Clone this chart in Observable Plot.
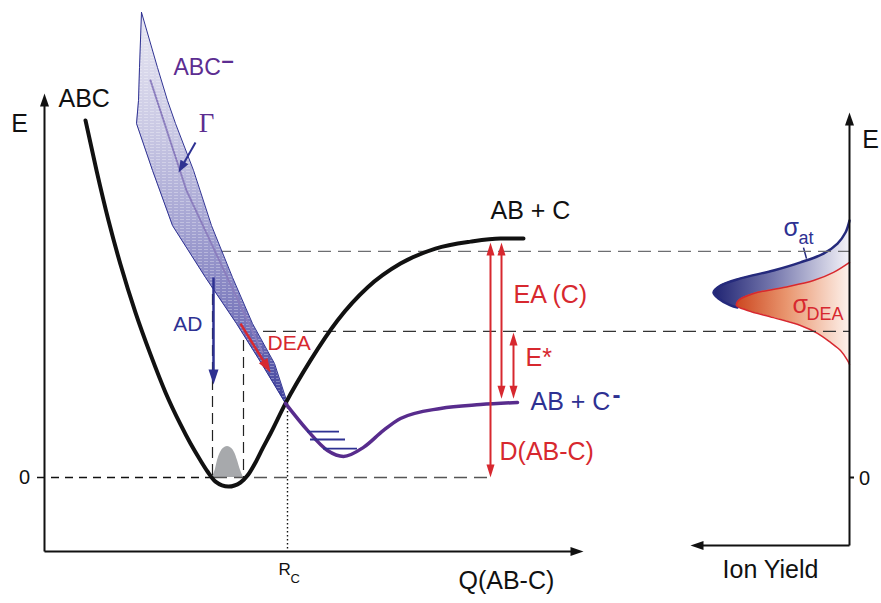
<!DOCTYPE html>
<html><head><meta charset="utf-8">
<script src="https://cdn.jsdelivr.net/npm/d3@7"></script>
<script src="https://cdn.jsdelivr.net/npm/@observablehq/plot@0.6"></script>
<style>body{margin:0;background:#fff}#chart{width:881px;height:603px}</style>
</head><body><div id="chart"></div>
<script>
// ================= DATA (Q = coordinate, E = energy) =================
// Neutral ABC potential curve
const abcQ = [4.1, 5.2, 6.4, 7.6, 9.1, 10.6, 12.1, 13.6, 14.6, 15.6, 16.3, 17.1, 18.4, 19.6, 20.3, 21.1, 21.8, 22.6, 24.1, 26.6, 29.3, 32.3, 35.6, 39.1, 42.6, 45.6, 47.9];
const abcE = [14.94, 12.85, 10.75, 8.91, 6.90, 5.15, 3.56, 2.22, 1.42, 0.71, 0.25, -0.17, -0.38, -0.21, 0.08, 0.63, 1.21, 1.84, 3.10, 4.90, 6.57, 7.95, 8.95, 9.58, 9.87, 10.0, 10.0];
// Anion ABC- bound part (below crossing)
const anionQ = [24.1, 26.3, 28.3, 29.9, 31.9, 33.9, 35.6, 39.6, 43.6, 47.3];
const anionE = [3.10, 1.97, 1.13, 0.88, 1.26, 1.97, 2.47, 2.89, 3.05, 3.14];
// Resonance band of ABC- (width Gamma)
const bandE      = [19.46, 17.15, 15.77, 14.81, 12.85, 10.54, 8.37, 6.44, 4.77, 3.10];
const bandLeftQ  = [9.7, 9.5, 9.4, 9.2, 10.8, 12.8, 16.1, 19.2, 21.7, 24.1];
const bandRightQ = [9.7, 11.3, 12.3, 13.1, 14.9, 16.7, 18.8, 20.8, 23.0, 24.3];
const bandCenterQ = [10.6, 14.2, 21.8];
const bandCenterE = [16.61, 12.01, 5.23];
// Vibrational levels of the anion
const vibQ1 = [26.3, 26.6, 27.9];
const vibQ2 = [29.5, 30.1, 31.3];
const vibE  = [1.92, 1.59, 1.21];
// Ground-state wavefunction (grey)
const psiQ = [16.8, 17.1, 17.3, 17.6, 17.9, 18.3, 18.7, 19.0, 19.3, 19.6, 19.9];
const psiE = [0, 0.35, 0.71, 1.05, 1.22, 1.30, 1.22, 1.05, 0.71, 0.3, 0];
// Energy levels
const E_ABC_asym = 10.0, E_upper = 9.46, E_star = 6.11, E_anion = 3.3, E_zero = 0;
const Q_rc = 24.3;
// Arrows: AD, DEA, Gamma, D(AB-C), EA(C), E*
const arrowQ1 = [16.9, 19.6, 15.1, 44.6, 45.7, 46.9];
const arrowE1 = [8.37, 6.44, 14.02, 9.83, 9.83, 6.07];
const arrowQ2 = [16.9, 22.6, 13.4, 44.6, 45.7, 46.9];
const arrowE2 = [3.89, 4.39, 12.76, 0, 3.3, 3.3];
// Ion-yield panel (yield, E)
const sigmaAtYield = [0, 0.4, 1.2, 2.6, 4.9, 7.6, 10.9, 12.9, 13.6, 13.1, 11.9, 11.2, 8.9, 3.9, 0];
const sigmaAtE     = [10.75, 10.25, 9.79, 9.37, 9.00, 8.66, 8.33, 8.03, 7.74, 7.49, 7.20, 7.11, 6.90, 6.57, 6.44];
const sigmaDeaYield = [0, 1.6, 3.6, 6.6, 9.6, 11.1, 11.3, 10.2, 7.6, 4.9, 3.2, 1.9, 0.9, 0.2, 0];
const sigmaDeaE     = [9.00, 8.58, 8.24, 7.95, 7.70, 7.41, 7.20, 6.99, 6.69, 6.36, 6.03, 5.65, 5.31, 4.90, 4.73];
// Labels
const leftLabelText = ["ABC", "ABC", "AD", "DEA", "AB + C", "EA (C)", "E*", "D(AB-C)", "AB + C", "Q(AB-C)", "R", "C"];
const leftLabelQ    = [1.4, 12.9, 15.8, 22.3, 44.6, 46.9, 48.1, 45.5, 48.6, 41.4, 23.4, 24.6];
const leftLabelE    = [15.82, 17.15, 6.40, 5.61, 11.17, 7.62, 4.98, 1.05, 3.14, -4.31, -3.85, -4.23];
const rightLabelText = ["σ", "at", "σ", "DEA", "Ion Yield", "E", "0"];
const rightLabelYield = [6.6, 5.1, 5.7, 4.3, 7.9, -2.1, -1.5];
const rightLabelE     = [10.46, 10.0, 7.2, 6.82, -3.89, 14.14, -0.04];

// ================= LAYOUT / SCALES =================
const W = 881, H = 603;
const xDomain = [-4.4, 83.7], yDomain = [-5.272, 19.958];
const xs = d3.scaleLinear(xDomain, [0, W]), ys = d3.scaleLinear(yDomain, [H, 0]);
const AXIS_Q = 80.5;              // position of the ion-yield energy axis
const yq = v => AXIS_Q - v;       // ion yield -> shared x coordinate
const BLACK = "#111111", BLUE = "#2e3192", RED = "#d7282f", PURPLE = "#5c2d91", GRAY = "#a7a9ac", NAVY = "#252a7c";
const FONT = "Liberation Sans, Arial, Helvetica, sans-serif";

const zip = (a, b, ka, kb) => a.map((v, i) => ({[ka]: v, [kb]: b[i]}));
const abc = zip(abcQ, abcE, "q", "e");
const anion = zip(anionQ, anionE, "q", "e");
const band = bandE.map((e, i) => ({e, l: bandLeftQ[i], r: bandRightQ[i]}));
const bandOutline = [...band.map(d => ({q: d.l, e: d.e})), ...band.slice().reverse().map(d => ({q: d.r, e: d.e}))];
const bandCenter = zip(bandCenterQ, bandCenterE, "q", "e");
const vib = vibE.map((e, i) => ({e, q1: vibQ1[i], q2: vibQ2[i]}));
const psi = zip(psiQ, psiE, "q", "e");
const sigAt = zip(sigmaAtYield, sigmaAtE, "y", "e");
const sigAtOutline = sigAt.filter(d => d.e >= 7.1);   // lower branch hidden behind sigma_DEA
const sigDea = zip(sigmaDeaYield, sigmaDeaE, "y", "e");

const hDash = [
  {e: E_upper, q1: 17.4, q2: AXIS_Q, c: "#6d6e71"},
  {e: E_star, q1: 19.9, q2: AXIS_Q, c: "#333333"},
  {e: E_zero, q1: 17.0, q2: 44.6, c: "#555555"}
];
const vDash = [{q: 16.8, e1: 8.37, e2: 0}, {q: 19.9, e1: 6.44, e2: 0}];

// arrowhead symbol (tip at origin)
function head(dx, dy, L, hw) {
  const n = Math.hypot(dx, dy), ux = dx / n, uy = dy / n, px = -uy, py = ux;
  return {draw(ctx) {
    ctx.moveTo(0, 0);
    ctx.lineTo(-ux * L + px * hw, -uy * L + py * hw);
    ctx.lineTo(-ux * L - px * hw, -uy * L - py * hw);
    ctx.closePath();
  }};
}
function arrow(q1, e1, q2, e2, color, width, L, hw, both) {
  const p1 = [xs(q1), ys(e1)], p2 = [xs(q2), ys(e2)];
  const dx = p2[0] - p1[0], dy = p2[1] - p1[1], n = Math.hypot(dx, dy), ux = dx / n, uy = dy / n;
  const s = L * 0.7;
  const a1 = both ? [p1[0] + ux * s, p1[1] + uy * s] : p1;
  const a2 = [p2[0] - ux * s, p2[1] - uy * s];
  const seg = [{x1: xs.invert(a1[0]), y1: ys.invert(a1[1]), x2: xs.invert(a2[0]), y2: ys.invert(a2[1])}];
  const marks = [
    Plot.link(seg, {x1: "x1", y1: "y1", x2: "x2", y2: "y2", stroke: color, strokeWidth: width}),
    Plot.dot([{q: q2, e: e2}], {x: "q", y: "e", symbol: head(dx, dy, L, hw), fill: color, stroke: "none", r: 5})
  ];
  if (both) marks.push(Plot.dot([{q: q1, e: e1}], {x: "q", y: "e", symbol: head(-dx, -dy, L, hw), fill: color, stroke: "none", r: 5}));
  return marks;
}
const arrowStyle = [[BLUE, 2.5, 15, 5, false], [RED, 2.5, 14, 5, false], [BLUE, 2, 12, 4.5, false],
                    [RED, 2, 13, 4, true], [RED, 2, 13, 4, true], [RED, 2, 13, 4, true]];
const arrowMarks = arrowQ1.flatMap((q, i) => arrow(q, arrowE1[i], arrowQ2[i], arrowE2[i], ...arrowStyle[i]));

// axes
const axisMarks = [
  ...arrow(0, -3.1, 0, 16.07, BLACK, 2, 13, 4.5, false),
  ...arrow(0, -3.1, 53.9, -3.1, BLACK, 2, 13, 4.5, false),
  ...arrow(AXIS_Q, -2.85, AXIS_Q, 15.27, BLACK, 2, 13, 4.5, false),
  ...arrow(AXIS_Q, -2.85, yq(15.9), -2.85, BLACK, 2, 13, 4.5, false),
  Plot.link([{}], {x1: () => AXIS_Q, x2: () => AXIS_Q + 0.45, y1: () => 0, y2: () => 0, stroke: BLACK, strokeWidth: 2})
];

const defs = () => {
  const d = d3.create("svg:defs");
  const g1 = d.append("linearGradient").attr("id", "bandGrad").attr("gradientUnits", "userSpaceOnUse")
    .attr("x1", 0).attr("x2", 0).attr("y1", ys(bandE[0])).attr("y2", ys(bandE[bandE.length - 1]));
  [[0, "#e9e8f3"], [0.3, "#cac9e4"], [0.55, "#a4a3d2"], [0.8, "#7675ba"], [1, "#3f409b"]]
    .forEach(([o, c]) => g1.append("stop").attr("offset", o).attr("stop-color", c));
  const g2 = d.append("linearGradient").attr("id", "blueGrad").attr("gradientUnits", "userSpaceOnUse")
    .attr("y1", 0).attr("y2", 0).attr("x1", xs(yq(13.6))).attr("x2", xs(AXIS_Q));
  [[0, "#1f2372"], [0.45, "#7779ae"], [1, "#f3f2f8"]].forEach(([o, c]) => g2.append("stop").attr("offset", o).attr("stop-color", c));
  const g3 = d.append("linearGradient").attr("id", "redGrad").attr("gradientUnits", "userSpaceOnUse")
    .attr("y1", 0).attr("y2", 0).attr("x1", xs(yq(11.3))).attr("x2", xs(AXIS_Q));
  [[0, "#cc4720"], [0.45, "#e9966f"], [1, "#fdf1eb"]].forEach(([o, c]) => g3.append("stop").attr("offset", o).attr("stop-color", c));
  const pat = d.append("pattern").attr("id", "hatch").attr("patternUnits", "userSpaceOnUse").attr("width", 6).attr("height", 3);
  pat.append("rect").attr("width", 4).attr("height", 1).attr("fill", "white").attr("fill-opacity", 0.3);
  return d.node();
};

const leftLabels = leftLabelText.map((t, i) => ({t, q: leftLabelQ[i], e: leftLabelE[i]}));
const sizeL = [25, 23, 21, 21, 25, 25, 25, 25, 25, 25, 17, 13];
const colL = [BLACK, PURPLE, BLUE, RED, BLACK, RED, RED, RED, BLUE, BLACK, BLACK, BLACK];
const leftStyled = leftLabels.map((d, i) => ({...d, s: sizeL[i], c: colL[i]}));
const leftStart = leftStyled.filter(d => d.t !== "AD");
const leftEnd = leftStyled.filter(d => d.t === "AD");
const sizeR = [25, 18, 25, 18, 25, 25, 20];
const colR = [BLUE, BLUE, RED, RED, BLACK, BLACK, BLACK];
const rightLabels = rightLabelText.map((t, i) => ({t, q: yq(rightLabelYield[i]), e: rightLabelE[i], s: sizeR[i], c: colR[i]}));
const rightStart = rightLabels.filter((d, i) => i < 4);
const rightMid = rightLabels.filter((d, i) => i >= 4);
const misc = [
  {t: "E", q: -2.5, e: 14.81, s: 25, c: BLACK},
  {t: "0", q: -2.0, e: 0, s: 20, c: BLACK}
];
const superMinus = [
  {t: "–", q: 18.3, e: 17.42, s: 22, c: PURPLE},
  {t: "-", q: 57.2, e: 3.45, s: 24, c: BLUE}
];

const plot = Plot.plot({
  width: W, height: H, margin: 0,
  x: {domain: xDomain, axis: null},
  y: {domain: yDomain, axis: null},
  color: {type: "identity"},
  style: {fontFamily: FONT, background: "#fff", overflow: "visible"},
  marks: [
    defs,
    Plot.areaY(psi, {x: "q", y: "e", fill: GRAY, curve: "catmull-rom"}),
    // ion-yield fills and outlines
    Plot.areaX(sigAt, {y: "e", x1: () => AXIS_Q, x2: d => yq(d.y), fill: "url(#blueGrad)", curve: "catmull-rom"}),
    Plot.line(sigAtOutline, {x: d => yq(d.y), y: "e", stroke: NAVY, strokeWidth: 2.5, curve: "catmull-rom"}),
    Plot.areaX(sigDea, {y: "e", x1: () => AXIS_Q, x2: d => yq(d.y), fill: "url(#redGrad)", curve: "catmull-rom"}),
    Plot.line(sigDea, {x: d => yq(d.y), y: "e", stroke: RED, strokeWidth: 1.5, curve: "catmull-rom"}),
    Plot.link([{}], {x1: () => yq(4.6), y1: () => 9.62, x2: () => yq(4.3), y2: () => 9.16, stroke: NAVY, strokeWidth: 1.5}),
    // dashed guides
    Plot.ruleY(hDash, {y: "e", x1: "q1", x2: "q2", stroke: "c", strokeWidth: 1.3, strokeDasharray: "13,7"}),
    Plot.ruleY([E_zero], {x1: () => -0.7, x2: () => 17.0, stroke: BLACK, strokeWidth: 1.6, strokeDasharray: "8,6"}),
    Plot.ruleX(vDash, {x: "q", y1: "e1", y2: "e2", stroke: "#222", strokeWidth: 1.2, strokeDasharray: "11,6"}),
    Plot.ruleX([Q_rc], {y1: () => E_anion - 0.2, y2: () => -3.1, stroke: BLACK, strokeWidth: 1.4, strokeDasharray: "1.5,2.5"}),
    // resonance band
    Plot.areaX(band, {y: "e", x1: "l", x2: "r", fill: "url(#bandGrad)"}),
    Plot.areaX(band, {y: "e", x1: "l", x2: "r", fill: "url(#hatch)"}),
    Plot.line(bandOutline, {x: "q", y: "e", stroke: BLUE, strokeWidth: 1}),
    Plot.line(bandCenter, {x: "q", y: "e", stroke: "#8a7cbd", strokeWidth: 2, strokeDasharray: "1.2,1.8"}),
    // potential curves
    Plot.line(abc, {x: "q", y: "e", stroke: BLACK, strokeWidth: 4, curve: "monotone-x"}),
    Plot.line(anion, {x: "q", y: "e", stroke: "#582c8d", strokeWidth: 3.5, curve: "monotone-x"}),
    Plot.ruleY(vib, {y: "e", x1: "q1", x2: "q2", stroke: BLUE, strokeWidth: 1.8}),
    ...arrowMarks,
    ...axisMarks,
    // text
    Plot.text(leftStart, {x: "q", y: "e", text: "t", fill: "c", fontSize: d => d.s, textAnchor: "start"}),
    Plot.text(leftEnd, {x: "q", y: "e", text: "t", fill: "c", fontSize: d => d.s, textAnchor: "end"}),
    Plot.text(rightStart, {x: "q", y: "e", text: "t", fill: "c", fontSize: d => d.s, textAnchor: "start"}),
    Plot.text(rightMid, {x: "q", y: "e", text: "t", fill: "c", fontSize: d => d.s, textAnchor: "middle"}),
    Plot.text(misc, {x: "q", y: "e", text: "t", fill: "c", fontSize: d => d.s, textAnchor: "middle"}),
    Plot.text(superMinus, {x: "q", y: "e", text: "t", fill: "c", fontSize: d => d.s, textAnchor: "middle", fontWeight: "bold"}),
    Plot.text([{t: "Γ", q: 16.2, e: 14.81}], {x: "q", y: "e", text: "t", fill: PURPLE, fontSize: 27, fontFamily: "Liberation Serif, Times New Roman, serif", textAnchor: "middle"})
  ]
});
document.getElementById("chart").appendChild(plot);
</script>
</body></html>
